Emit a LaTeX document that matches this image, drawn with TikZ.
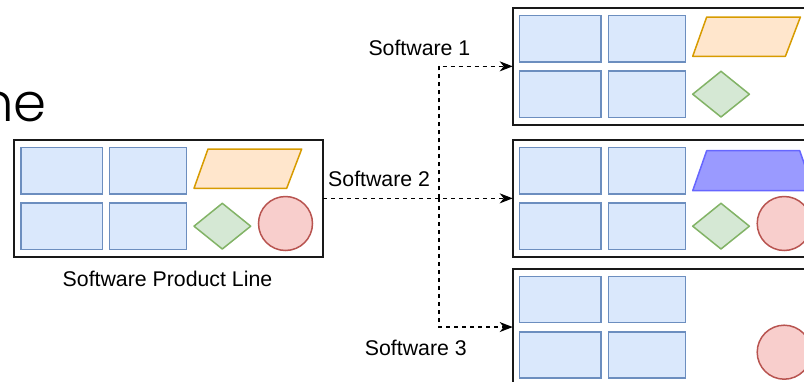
\documentclass[tikz,border=0pt]{standalone}
\usepackage{fontspec}
\setmainfont{Liberation Sans}
\newfontfamily\headfont{Poppins Light}
\usetikzlibrary{arrows.meta}

\definecolor{tileFill}{HTML}{DAE8FC}
\definecolor{tileLine}{HTML}{6C8EBF}
\definecolor{paraFill}{HTML}{FFE6CC}
\definecolor{paraLine}{HTML}{D79B00}
\definecolor{diaFill}{HTML}{D5E8D4}
\definecolor{diaLine}{HTML}{82B366}
\definecolor{dotFill}{HTML}{F8CECC}
\definecolor{dotLine}{HTML}{B85450}
\definecolor{trapFill}{HTML}{9A9AFF}
\definecolor{trapLine}{HTML}{6666FF}

\tikzset{
  container/.style={draw=black!90, line width=1.8pt, rectangle,
    minimum width=309pt, minimum height=116.7pt, inner sep=0pt, outer sep=0pt},
  tile/.style={draw=tileLine, fill=tileFill, line width=1.5pt, rectangle,
    minimum height=46.3pt, inner sep=0pt, outer sep=0pt},
  wide/.style={tile, minimum width=81.3pt},
  narrow/.style={tile, minimum width=77pt},
  para/.style={draw=paraLine, fill=paraFill, line width=1.5pt, line join=round},
  trap/.style={draw=trapLine, fill=trapFill, line width=1.5pt, line join=round},
  gem/.style={draw=diaLine, fill=diaFill, line width=1.5pt, line join=round},
  dot/.style={draw=dotLine, fill=dotFill, line width=1.5pt},
  conn/.style={draw=black, line width=1.6pt, dash pattern=on 4pt off 4pt,
    -{Stealth[length=13pt, width=10pt, inset=4pt]}},
  label/.style={font=\fontsize{21.3}{24}\selectfont, inner sep=0pt, anchor=base west}
}

% four blue tiles of a product, relative to the container's top left corner
\newcommand\tileset[1]{%
  \node[wide]   (#1-a) at (47.65,30.85) {};
  \node[narrow] (#1-b) at (134.2,30.85) {};
  \node[wide]   (#1-c) at (47.65,86.2) {};
  \node[narrow] (#1-d) at (134.2,86.2) {};
}
\newcommand\paragram{\draw[para] (194,9) -- (287.7,9) -- (272.7,48.3) -- (180,48.3) -- cycle;}
\newcommand\trapez{\draw[trap] (180,50.7) -- (194,10.7) -- (287,10.7) -- (301,50.7) -- cycle;}
\newcommand\gemshape{\draw[gem] (180,86.2) -- (208.3,63.3) -- (236.7,86.2) -- (208.3,109) -- cycle;}
\newcommand\dotshape{\draw[dot] (271.5,83.5) circle[radius=27];}

\begin{document}
\begin{tikzpicture}[x=1pt, y=-1pt]
\useasboundingbox (0,0) rectangle (804,381);
\clip (0,0) rectangle (804,381);

% partial heading at the top left
\node[font=\headfont\fontsize{53}{60}\selectfont, inner sep=0pt, anchor=base east] (head) at (47,121) {ne};

% containers
\node[container] (spl) at (168.5,198.35) {};
\node[container] (sw1) at (667.2,66.35) {};
\node[container] (sw2) at (667.2,198.35) {};
\node[container] (sw3) at (667.2,327.05) {};

% product line: every feature
\begin{scope}[shift={(14,140)}]
  \tileset{spl}
  \paragram
  \gemshape
  \dotshape
\end{scope}

% software 1
\begin{scope}[shift={(512.7,8)}]
  \tileset{one}
  \paragram
  \gemshape
\end{scope}

% software 2
\begin{scope}[shift={(512.7,140)}]
  \tileset{two}
  \trapez
  \gemshape
  \dotshape
\end{scope}

% software 3
\begin{scope}[shift={(512.7,268.7)}]
  \tileset{three}
  \dotshape
\end{scope}

% derivation connectors
\coordinate (split) at (438.7,198.35);
\draw[conn] (spl.east) -- (sw2.west);
\draw[conn] (split) |- (sw1.west);
\draw[conn] (split) |- (sw3.west);

% labels
\node[label] (lspl) at (62.5,286) {Software Product Line};
\node[label] (l1) at (368.3,55) {Software 1};
\node[label] (l2) at (328,186.7) {Software 2};
\node[label] (l3) at (364.7,355.7) {Software 3};
\end{tikzpicture}
\end{document}
